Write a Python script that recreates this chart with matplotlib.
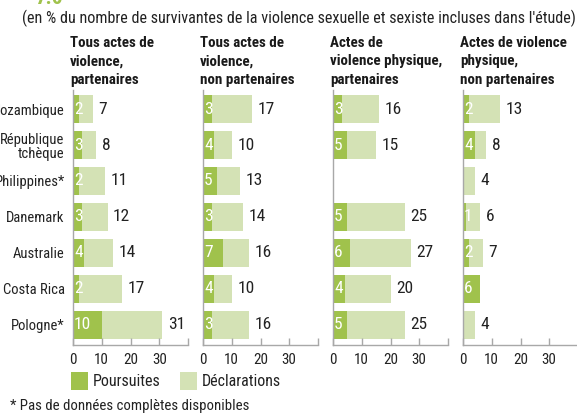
import matplotlib
matplotlib.use("Agg")
import matplotlib.pyplot as plt
from matplotlib.patches import Rectangle

plt.rcParams['font.family'] = ['Liberation Sans Narrow', 'Roboto Condensed', 'DejaVu Sans Condensed', 'Liberation Sans', 'DejaVu Sans']

countries = ["Mozambique", "République\ntchèque", "Philippines*", "Danemark",
             "Australie", "Costa Rica", "Pologne*"]
headers = ["Tous actes de\nviolence,\npartenaires",
           "Tous actes de\nviolence,\nnon partenaires",
           "Actes de\nviolence physique,\npartenaires",
           "Actes de violence\nphysique,\nnon partenaires"]
poursuites = [
    [2, 3, 2, 3, 4, 2, 10],
    [3, 4, 5, 3, 7, 4, 3],
    [3, 5, None, 5, 6, 4, 5],
    [2, 4, 0, 1, 2, 6, 0],
]
declarations = [
    [7, 8, 11, 12, 14, 17, 31],
    [17, 10, 13, 14, 16, 10, 16],
    [16, 15, None, 25, 27, 20, 25],
    [13, 8, 4, 6, 7, None, 4],
]
xticks = [0, 10, 20, 30, 40]
xticklabels = ["0", "10", "20", "30", ""]
legend_labels = ["Poursuites", "Déclarations"]

dark = "#a0c24c"
light = "#d4e2b5"
grey = "#a8a8a8"
W, H = 577, 416

fig = plt.figure(figsize=(W / 100, H / 100), dpi=100)

def fx(px):
    return px / W

def fy(py):
    return 1 - py / H

for i in range(4):
    left = 73 + 130 * i
    ax = fig.add_axes([fx(left), fy(345), 115 / W, (345 - 90) / H])
    ys = list(range(len(countries)))
    for y, p, d in zip(ys, poursuites[i], declarations[i]):
        if d is not None:
            ax.barh(y, d, height=0.77, color=light, edgecolor='none')
            ax.annotate(str(d), (d, y), xytext=(4, 0), textcoords='offset points',
                        ha='left', va='center', fontsize=12.5, color='#222222')
        if p is not None:
            ax.barh(y, p, height=0.77, color=dark, edgecolor='none')
            if p > 0:
                ax.annotate(str(p), (0, y), xytext=(0.8, 0), textcoords='offset points',
                            ha='left', va='center', fontsize=12.5, color='white')
    ax.set_xlim(0, 40)
    ax.set_ylim(6.556, -0.528)
    ax.set_xticks(xticks)
    ax.set_xticklabels(xticklabels, fontsize=10.8, color='#222222')
    ax.tick_params(axis='x', direction='in', length=5, width=1, color=grey, pad=6)
    ax.tick_params(axis='y', length=0)
    for s in ['top', 'right']:
        ax.spines[s].set_visible(False)
    for s in ['left', 'bottom']:
        ax.spines[s].set_color(grey)
        ax.spines[s].set_linewidth(1)
    if i == 0:
        ax.set_yticks(ys)
        ax.set_yticklabels(countries, fontsize=10.5, color='#222222', linespacing=1.0)
        ax.tick_params(axis='y', pad=6)
    else:
        ax.set_yticks([])
    fig.text(fx(left - 3), fy(36), headers[i], ha='left', va='top', fontsize=10.8,
             fontweight='bold', color='#1a1a1a', linespacing=1.4)

fig.text(fx(35), fy(4), "7.6", ha='left', va='baseline', fontsize=15,
         fontweight='bold', color=dark)
fig.text(fx(22), fy(18), "(en % du nombre de survivantes de la violence sexuelle et sexiste incluses dans l'étude)",
         ha='left', va='center', fontsize=11.6, color='#222222')

# legend
for x0, lab, col in [(71, legend_labels[0], dark), (180, legend_labels[1], light)]:
    fig.patches.append(Rectangle((fx(x0), fy(390)), 17 / W, 18 / H, transform=fig.transFigure,
                                 facecolor=col, edgecolor='none'))
    fig.text(fx(x0 + 22), fy(382), lab, ha='left', va='center', fontsize=11.5, color='#222222')

fig.text(fx(10), fy(406), "* Pas de données complètes disponibles", ha='left', va='center',
         fontsize=10.7, color='#222222')

fig.savefig("out.png", dpi=100)
